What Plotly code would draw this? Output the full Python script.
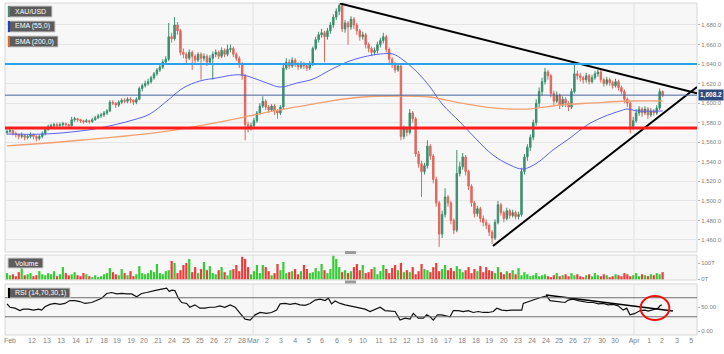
import plotly.graph_objects as go

# ---------------- data (4h candles, XAU/USD) ----------------
FIRST_OPEN = 1570
CLOSE = [1571, 1572, 1569, 1568, 1566, 1567, 1565, 1566, 1568, 1566, 1564, 1566, 1569,
         1573, 1576, 1577, 1578, 1577, 1578, 1579, 1578, 1577, 1583, 1584, 1583, 1582, 1581, 1582,
         1581, 1583, 1585, 1587, 1588, 1590, 1592, 1601, 1600, 1598, 1601, 1603, 1602, 1604,
         1603, 1601, 1604, 1615, 1618, 1620, 1622, 1626, 1630, 1634, 1637, 1642, 1645, 1668,
         1666, 1680, 1674, 1652, 1650, 1646, 1652, 1648, 1644, 1650, 1646, 1648, 1642, 1646,
         1650, 1652, 1648, 1654, 1650, 1655, 1656, 1650, 1646, 1640, 1628, 1578, 1574, 1577,
         1582, 1590, 1597, 1602, 1596, 1593, 1597, 1592, 1590, 1596, 1636, 1642, 1638, 1644,
         1640, 1637, 1640, 1638, 1636, 1640, 1656, 1665, 1670, 1672, 1668, 1674, 1680, 1688,
         1694, 1700, 1676, 1682, 1678, 1686, 1680, 1674, 1668, 1670, 1660, 1656, 1652, 1654,
         1660, 1664, 1668, 1655, 1645, 1640, 1634, 1638, 1566, 1574, 1570, 1590, 1584, 1548,
         1538, 1530, 1536, 1556, 1546, 1522, 1498, 1466, 1486, 1504, 1498, 1480, 1470, 1528,
         1535, 1545, 1530, 1515, 1498, 1487, 1492, 1482, 1478, 1475, 1468, 1462, 1478, 1496,
         1488, 1482, 1490, 1485, 1488, 1484, 1486, 1530, 1545, 1555, 1565, 1580, 1600, 1612,
         1622, 1632, 1628, 1610, 1602, 1608, 1598, 1604, 1600, 1596, 1612, 1630, 1628, 1626,
         1624, 1628, 1622, 1626, 1630, 1632, 1624, 1620, 1624, 1621, 1618, 1622, 1616, 1612,
         1604, 1600, 1576, 1582, 1590, 1594, 1590, 1594, 1588, 1592, 1590, 1595, 1612, 1608.2]
HIGH = [1573, 1574, 1573, 1571, 1569, 1570, 1568, 1568, 1570, 1569, 1567, 1568, 1571,
        1575, 1578, 1579, 1580, 1580, 1580, 1581, 1580, 1579, 1586, 1586, 1585, 1584, 1583, 1584,
        1583, 1585, 1587, 1589, 1590, 1592, 1594, 1603, 1603, 1601, 1603, 1605, 1605, 1606,
        1606, 1604, 1606, 1617, 1620, 1623, 1625, 1628, 1632, 1636, 1639, 1645, 1648, 1682,
        1672, 1688, 1683, 1676, 1656, 1652, 1655, 1654, 1650, 1652, 1652, 1651, 1650, 1649,
        1653, 1655, 1654, 1657, 1656, 1660, 1660, 1658, 1652, 1648, 1642, 1630, 1581, 1580,
        1585, 1592, 1600, 1607, 1604, 1598, 1599, 1599, 1594, 1598, 1640, 1646, 1645, 1647,
        1646, 1642, 1643, 1642, 1640, 1643, 1658, 1668, 1673, 1676, 1674, 1677, 1683, 1691,
        1697, 1702, 1701, 1685, 1684, 1689, 1688, 1682, 1676, 1673, 1672, 1662, 1658, 1657,
        1663, 1667, 1672, 1670, 1657, 1647, 1642, 1641, 1640, 1577, 1576, 1594, 1592, 1586,
        1551, 1541, 1539, 1562, 1558, 1548, 1525, 1500, 1490, 1513, 1506, 1500, 1482, 1552,
        1540, 1549, 1547, 1532, 1517, 1500, 1495, 1494, 1485, 1481, 1477, 1470, 1481, 1500,
        1498, 1490, 1493, 1492, 1491, 1490, 1489, 1534, 1548, 1558, 1568, 1583, 1604, 1616,
        1626, 1636, 1634, 1630, 1613, 1612, 1610, 1607, 1606, 1602, 1615, 1641, 1633, 1631,
        1628, 1631, 1630, 1629, 1633, 1635, 1634, 1626, 1627, 1626, 1623, 1625, 1624, 1618,
        1614, 1606, 1602, 1586, 1594, 1597, 1596, 1597, 1596, 1595, 1594, 1598, 1615, 1613]
LOW = [1568, 1569, 1567, 1565, 1563, 1564, 1562, 1563, 1564, 1563, 1561, 1562, 1564,
       1567, 1572, 1574, 1575, 1575, 1576, 1576, 1576, 1575, 1576, 1581, 1581, 1580, 1579, 1580,
       1579, 1580, 1582, 1584, 1585, 1586, 1588, 1591, 1598, 1595, 1596, 1599, 1600, 1600,
       1600, 1598, 1599, 1603, 1612, 1616, 1618, 1620, 1624, 1628, 1632, 1635, 1640, 1643,
       1662, 1664, 1670, 1649, 1646, 1640, 1644, 1634, 1640, 1642, 1624, 1643, 1638, 1640,
       1624, 1647, 1645, 1646, 1647, 1648, 1652, 1647, 1643, 1636, 1624, 1562, 1570, 1572,
       1575, 1580, 1588, 1595, 1593, 1590, 1591, 1588, 1584, 1588, 1594, 1634, 1635, 1636,
       1637, 1634, 1635, 1635, 1633, 1634, 1638, 1654, 1662, 1667, 1642, 1665, 1671, 1677,
       1685, 1690, 1673, 1672, 1660, 1675, 1676, 1670, 1664, 1665, 1656, 1652, 1648, 1649,
       1651, 1657, 1661, 1652, 1641, 1636, 1631, 1632, 1562, 1563, 1566, 1568, 1580, 1545,
       1534, 1504, 1527, 1533, 1542, 1518, 1494, 1453, 1462, 1483, 1494, 1476, 1466, 1468,
       1525, 1532, 1526, 1511, 1494, 1483, 1484, 1478, 1474, 1471, 1464, 1456, 1460, 1476,
       1485, 1478, 1480, 1482, 1483, 1481, 1481, 1484, 1527, 1541, 1551, 1562, 1577, 1596,
       1608, 1619, 1624, 1606, 1598, 1600, 1594, 1596, 1596, 1592, 1594, 1610, 1624, 1622,
       1620, 1621, 1619, 1620, 1624, 1627, 1621, 1617, 1618, 1618, 1615, 1616, 1613, 1609,
       1600, 1596, 1569, 1573, 1580, 1587, 1586, 1588, 1584, 1586, 1587, 1588, 1593, 1606]
VOLUME_T = [38, 25, 31, 19, 44, 69, 25, 31, 38, 19, 25, 50, 31,
            25, 38, 31, 50, 19, 31, 75, 38, 25, 31, 44, 25, 19, 38, 31,
            19, 13, 25, 13, 19, 31,
            38, 69, 44, 31, 25, 63, 38, 25, 50, 19, 31,
            81, 38, 31, 38, 56, 44, 94, 38, 31, 50, 56,
            113, 100, 38, 56, 88, 100, 125, 44, 75, 38, 63,
            106, 56, 81, 38, 31, 56, 75, 44, 25, 56, 63, 88, 50, 138,
            125, 75, 31, 50, 88, 38, 88, 75, 50, 25, 38, 94, 56, 106,
            38, 44, 50, 63, 31, 50, 88, 63, 38, 44, 69, 50, 94, 56, 38, 63, 144, 125,
            75, 44, 56, 38, 50, 75, 94, 56, 88, 38,
            44, 63, 75, 31, 50, 88, 63, 38, 69, 88, 56, 100, 44,
            56, 44, 75, 31, 50, 94, 63, 56, 44, 75, 100, 50, 63, 88, 56,
            69, 50, 81, 63, 44, 56, 75, 38, 63, 50, 81, 44, 75, 56, 50,
            38, 75, 44, 31, 50, 38, 56, 31, 69, 25, 44,
            31, 19, 25, 38, 19, 25, 31, 19, 13, 25, 38, 19, 25, 31, 19, 38, 25, 31, 19, 13,
            25, 31, 19, 38, 25, 19, 31, 25, 13, 19, 31, 25, 19, 38, 31, 19, 25, 38, 19, 31,
            25, 19, 31, 25, 38, 31, 44]

EMA_T = [0, 12.9, 24.8, 31.6, 42.9, 48.6, 54.4, 59.9, 65.6, 71.4, 76.9, 80.3, 83.7, 88.4,
         92.9, 98.6, 104.1, 109.9, 115.6, 121.1, 126.9, 131.3, 134.7, 139.5, 143.9, 148.3,
         154.1, 159.9, 165.3, 171.1, 175.5, 180.3, 185.7, 191.5, 197.3, 202.7, 208.5, 210.9,
         214.3, 223]
EMA_VAL = [1568.4, 1568.4, 1571.5, 1574.6, 1582.8, 1588.9, 1602.2, 1615.5, 1622.7, 1625.8,
           1628.8, 1628.8, 1625.8, 1620.6, 1616.5, 1620.6, 1624.7, 1633.9, 1642.1, 1647.2,
           1650.3, 1650.3, 1644.2, 1631.9, 1616.5, 1598.1, 1580.7, 1562.3, 1546.9, 1536.7,
           1532.6, 1538.8, 1552.1, 1564.3, 1577.6, 1585.8, 1592.0, 1594.0, 1592.0, 1592.0]
SMA_T = [0, 25.9, 54.4, 75.9, 87.1, 98.6, 109.9, 121.1, 133.7, 143.9, 154.1, 165.3, 176.9,
         188.1, 199.3, 210.9, 223]
SMA_VAL = [1556.2, 1562.3, 1571.5, 1582.8, 1589.9, 1596.1, 1602.2, 1606.3, 1607.3, 1606.3,
           1600.2, 1595.1, 1594.0, 1598.1, 1600.2, 1602.2, 1602.2]

RSI_T = [0, 1.0, 2.7, 4.4, 5.5, 7.3, 9.0, 10.7, 11.8, 12.9, 14.6, 16.3, 18.0, 19.7, 21.4,
         23.1, 24.8, 26.5, 28.8, 30.5, 32.2, 33.9, 35.6, 37.3, 39.0, 40.7, 42.4, 44.1, 45.8,
         47.5, 49.2, 50.9, 52.6, 54.3, 55.2, 56.0, 57.1, 58.3, 59.4, 61.1, 62.2, 63.9, 65.6,
         67.3, 69.0, 70.7, 72.4, 74.1, 75.9, 77.6, 79.3, 81.0, 82.7, 84.4, 86.1, 88.3, 90.0,
         91.7, 92.9, 94.6, 96.3, 98.0, 99.7, 101.4, 103.1, 104.8, 106.5, 108.2, 109.3, 110.4,
         111.6, 113.3, 115.0, 116.7, 118.4,
         120.1, 121.8, 123.5, 125.2, 126.9, 128.6, 130.3, 132.0, 133.7, 135.4, 137.1, 138.2,
         139.9, 141.6, 142.8, 143.9, 145.0, 146.4, 147.8, 149.6, 150.7, 151.8, 153.5, 155.2,
         156.9, 158.6, 160.3, 162.0, 163.7, 165.4, 166.6, 168.3, 170.0, 171.7, 173.4, 175.1,
         175.6, 177.3, 179.0, 180.7, 182.4, 183.6, 184.7, 186.4, 188.1, 189.8, 190.9, 192.6,
         194.3, 196.0, 197.7, 199.4, 201.2, 202.8, 204.5, 206.2, 207.9, 209.6, 210.8, 211.9,
         213.6, 215.4, 217.0, 218.1, 219.3, 220.4, 221.5, 222.1, 222.7]
RSI_VAL = [57, 50, 48, 43, 46, 46, 44, 46, 44, 51, 56, 58, 56, 58, 64, 64, 62, 58, 60, 65,
           69, 79, 81, 78, 79, 78, 78, 72, 79, 81, 84, 86, 88, 90, 83, 86, 85, 69, 60, 58,
           50, 55, 48, 48, 50, 50, 53, 50, 55, 50, 37, 25, 23, 34, 39, 37, 39, 44, 57, 58,
           56, 58, 55, 54, 58, 65, 67, 64, 69, 57, 63, 58, 55, 53, 50,
           48, 46, 41, 46, 50, 43, 42, 41, 23, 27, 25, 37, 27, 27, 34, 30, 23, 34, 34, 32,
           30, 43, 43, 41, 43, 39, 41, 39, 39, 41, 48, 44, 43, 44, 44, 44, 58, 62, 65, 69,
           72, 74, 64, 63, 62, 60, 65, 67, 64, 62, 60, 60, 57, 58, 55, 56, 53, 44, 48, 34,
           37, 43, 44, 42, 44, 46, 48, 53, 55]

TICK_POS = [1.0, 8.5, 13.6, 18.4, 23.5, 27.9, 33.0, 37.4, 42.2, 46.6, 51.4, 56.1, 60.9, 65.6,
            70.4, 75.2, 79.9, 83.7, 88.4, 93.2, 98.0, 102.7, 107.1, 112.2, 116.7, 121.1, 126.5,
            131.3, 136.0, 140.5, 145.2, 150.0, 154.8, 159.5, 164.0, 169.0, 173.8, 178.6, 183.3,
            187.8, 192.5, 197.3, 202.4, 206.8, 213.3, 218.4, 222.8, 227.9, 232.7]
TICK_TEXT = ["Feb", "12", "13", "13", "14", "17", "18", "19", "19", "20", "21", "24", "25", "25",
             "26", "27", "28", "Mar", "2", "3", "4", "5", "6", "6", "9", "10", "11", "12", "12",
             "13", "16", "17", "18", "18", "19", "20", "23", "24", "24", "25", "26", "27", "30",
             "30", "Apr", "1", "2", "3", "5"]
MONTH_STARTS = [83.7, 213.3]

RESISTANCE = 1640
SUPPORT = 1574.5
LAST_PRICE = 1608.2
UPPER_TREND_T = [113.3, 234.7]
UPPER_TREND_P = [1702, 1610]
LOWER_TREND_T = [165.3, 234.7]
LOWER_TREND_P = [1453.8, 1616.5]
RSI_TREND_T = [183.3, 226.5]
RSI_TREND_V = [75.8, 42.1]
RSI_CIRCLE_T = [215.5, 225.3]
RSI_CIRCLE_V = [23, 73.7]

PRICE_TICKS = list(range(1460, 1681, 20))

# ---------------- styling ----------------
GREEN = "#3b8f6e"
RED = "#e0675d"
VGREEN = "#33cc33"
VRED = "#f03a3a"
FONT = "Liberation Sans, Arial, sans-serif"
W, H = 724, 354
ML, MR, MT, MB = 5, 27, 3, 19
PW, PH = W - ML - MR, H - MT - MB


def pxx(x):
    return (x - ML) / PW


def pxy(y):
    return (H - MB - y) / PH


T = list(range(len(CLOSE)))
OPEN = [FIRST_OPEN] + CLOSE[:-1]
vol_colors = [VGREEN if c >= o else VRED for o, c in zip(OPEN, CLOSE)]

fig = go.Figure()
fig.add_trace(go.Candlestick(
    x=T, open=OPEN, high=HIGH, low=LOW, close=CLOSE, xaxis="x", yaxis="y",
    increasing=dict(line=dict(color=GREEN, width=1), fillcolor=GREEN),
    decreasing=dict(line=dict(color=RED, width=1), fillcolor=RED),
    whiskerwidth=0, hoverinfo="skip"))
fig.add_trace(go.Scatter(x=EMA_T, y=EMA_VAL, mode="lines", line=dict(color="#5a63f0", width=1, shape="spline"),
                         xaxis="x", yaxis="y", hoverinfo="skip"))
fig.add_trace(go.Scatter(x=SMA_T, y=SMA_VAL, mode="lines", line=dict(color="#f2a070", width=1.3, shape="spline"),
                         xaxis="x", yaxis="y", hoverinfo="skip"))
fig.add_trace(go.Scatter(x=UPPER_TREND_T, y=UPPER_TREND_P, mode="lines", line=dict(color="black", width=2),
                         xaxis="x", yaxis="y", hoverinfo="skip"))
fig.add_trace(go.Scatter(x=LOWER_TREND_T, y=LOWER_TREND_P, mode="lines", line=dict(color="black", width=2),
                         xaxis="x", yaxis="y", hoverinfo="skip"))
fig.add_trace(go.Bar(x=T, y=VOLUME_T, marker=dict(color=vol_colors, line=dict(width=0)),
                     xaxis="x", yaxis="y2", hoverinfo="skip"))
fig.add_trace(go.Scatter(x=RSI_T, y=RSI_VAL, mode="lines", line=dict(color="#111111", width=1.2),
                         xaxis="x", yaxis="y3", hoverinfo="skip"))
fig.add_trace(go.Scatter(x=RSI_TREND_T, y=RSI_TREND_V, mode="lines", line=dict(color="black", width=1.6),
                         xaxis="x", yaxis="y3", hoverinfo="skip"))

shapes = []
# panel borders
for yr in ["y", "y2", "y3"]:
    shapes.append(dict(type="rect", xref="x domain", yref=yr + " domain", x0=0, x1=1, y0=0, y1=1,
                       line=dict(color="#d6d6d6", width=1), layer="below"))
    for m in MONTH_STARTS:
        shapes.append(dict(type="line", xref="x", yref=yr + " domain", x0=m, x1=m, y0=0, y1=1,
                           line=dict(color="#e0e0e0", width=1), layer="below"))
# horizontal levels
shapes.append(dict(type="line", xref="x domain", yref="y", x0=0, x1=1, y0=RESISTANCE, y1=RESISTANCE,
                   line=dict(color="#2ba3ea", width=2)))
shapes.append(dict(type="line", xref="x domain", yref="y", x0=0, x1=1, y0=LAST_PRICE, y1=LAST_PRICE,
                   line=dict(color="#46639a", width=1)))
shapes.append(dict(type="line", xref="x domain", yref="y", x0=0, x1=1, y0=SUPPORT, y1=SUPPORT,
                   line=dict(color="#ff1e1e", width=3)))
# RSI levels
for lv in [70, 30]:
    shapes.append(dict(type="line", xref="x domain", yref="y3", x0=0, x1=1, y0=lv, y1=lv,
                       line=dict(color="#6e6e6e", width=1)))
shapes.append(dict(type="circle", xref="x", yref="y3", x0=RSI_CIRCLE_T[0], x1=RSI_CIRCLE_T[1],
                   y0=RSI_CIRCLE_V[0], y1=RSI_CIRCLE_V[1], line=dict(color="#ee1111", width=2)))
# panel grips
for gy in [252.5, 282]:
    shapes.append(dict(type="rect", xref="paper", yref="paper", x0=pxx(345), x1=pxx(356),
                       y0=pxy(gy + 1.5), y1=pxy(gy - 1.5), fillcolor="#9a9a9a", line=dict(width=0)))

annotations = []
LABELS = [("XAU/USD", 8, 52, 6, 17, "#4a8a74"),
          ("EMA (55,0)", 8, 55, 21, 32, "#1f3fd0"),
          ("SMA (200,0)", 8, 58, 36, 47, "#e06a20"),
          ("Volume", 8, 43, 258, 268, None),
          ("RSI (14,70,30,1)", 8, 70, 288, 298, "#000000")]
for text, x0, x1, y0, y1, strip in LABELS:
    shapes.append(dict(type="rect", xref="paper", yref="paper", x0=pxx(x0), x1=pxx(x1),
                       y0=pxy(y1), y1=pxy(y0), fillcolor="#5c5c5c", line=dict(color="#cfcfcf", width=1)))
    if strip:
        shapes.append(dict(type="rect", xref="paper", yref="paper", x0=pxx(x0), x1=pxx(x0 + 2),
                           y0=pxy(y1), y1=pxy(y0), fillcolor=strip, line=dict(width=0)))
    annotations.append(dict(text=text, xref="paper", yref="paper", x=pxx(x0 + 5), y=pxy((y0 + y1) / 2),
                            xanchor="left", yanchor="middle", showarrow=False,
                            font=dict(family=FONT, size=7, color="white")))
annotations.append(dict(text="<b>1,608.2</b>", xref="paper", yref="y", x=1.0, y=LAST_PRICE,
                        xanchor="left", yanchor="middle", showarrow=False, bgcolor="#2d4b7d",
                        borderpad=1, xshift=1, font=dict(family=FONT, size=6.5, color="white")))

axis_font = dict(family=FONT, size=6, color="#808080")
fig.update_layout(
    width=W, height=H, margin=dict(l=ML, r=MR, t=MT, b=MB),
    paper_bgcolor="white", plot_bgcolor="#f7f7f7", showlegend=False, bargap=0.25,
    hovermode=False, shapes=shapes, annotations=annotations,
    xaxis=dict(domain=[0, 1], anchor="y3", range=[-0.68, 234.7], tickvals=TICK_POS, ticktext=TICK_TEXT,
               tickangle=0, showgrid=False, zeroline=False, showline=False, ticks="",
               tickfont=dict(family=FONT, size=7, color="#808080"), rangeslider=dict(visible=False),
               automargin=False, fixedrange=True),
    yaxis=dict(domain=[pxy(252), 1], anchor="x", side="right", range=[1447.7, 1702.5],
               tickvals=PRICE_TICKS, tickformat=",.1f", gridcolor="#e6e6e6", zeroline=False,
               ticks="outside", ticklen=2, tickcolor="#b0b0b0", tickfont=axis_font, automargin=False),
    yaxis2=dict(domain=[pxy(280), pxy(255)], anchor="x", side="right", range=[-4, 149],
                tickvals=[0, 100], ticktext=["0T", "100T"], showgrid=False, zeroline=False,
                ticks="outside", ticklen=2, tickcolor="#b0b0b0", tickfont=axis_font, automargin=False),
    yaxis3=dict(domain=[0, pxy(284)], anchor="x", side="right", range=[-8.4, 98.9],
                tickvals=[0, 50], ticktext=["0.00", "50.00"], showgrid=False, zeroline=False,
                ticks="outside", ticklen=2, tickcolor="#b0b0b0", tickfont=axis_font, automargin=False),
)

fig.write_html("out.html")
